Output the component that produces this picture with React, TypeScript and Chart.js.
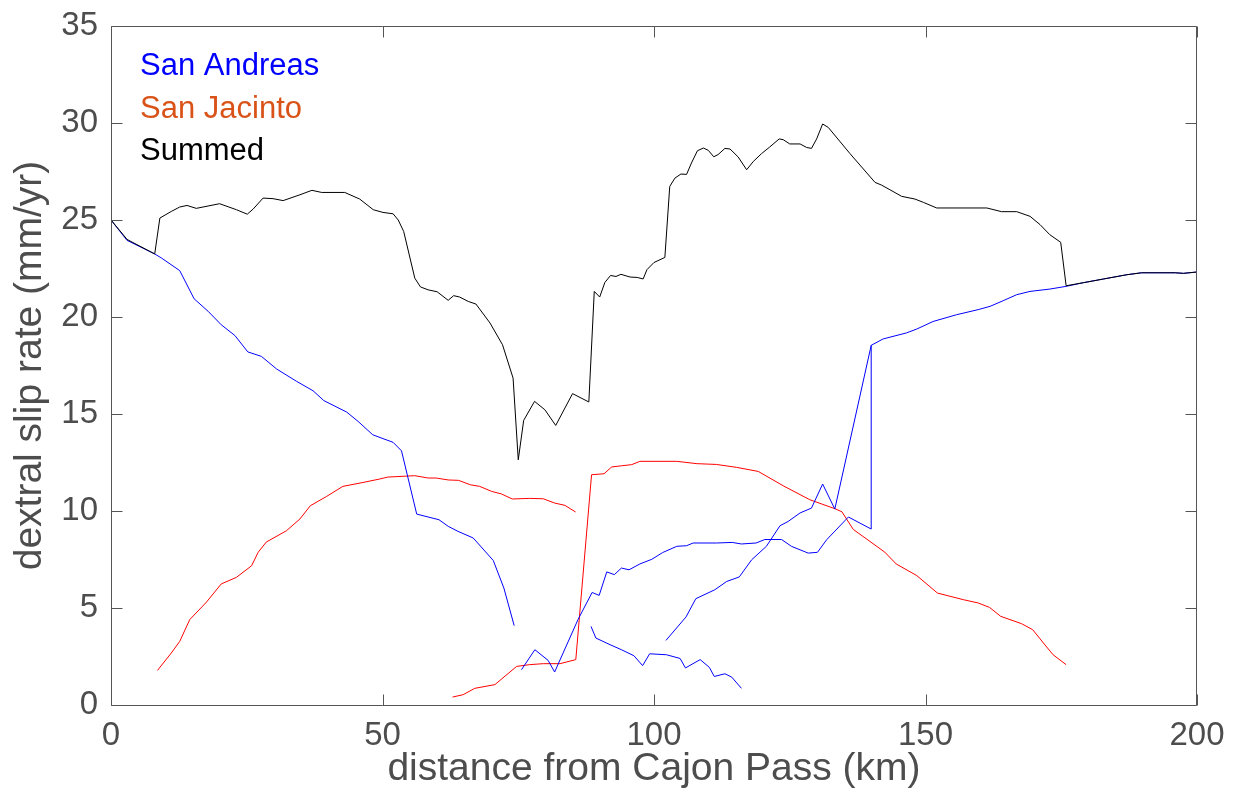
import React, { useEffect, useRef } from 'react';
import { Chart, registerables } from 'chart.js';

Chart.register(...registerables);

const FONT = '"Liberation Sans", Arial, Helvetica, sans-serif';
const AXIS_TEXT = '#4d4d4d';
const FRAME = '#555555';

// axis ticks
const xTicks = [0, 50, 100, 150, 200];
const yTicks = [0, 5, 10, 15, 20, 25, 30, 35];

// legend (text only)
const legendLabels = ['San Andreas', 'San Jacinto', 'Summed'];
const legendColors = ['#0000ff', '#d95319', '#000000'];

// Summed
const summedX = [0, 2.95, 8.05, 9.0, 11.1, 12.66, 14.0, 15.7, 20.0, 23.1, 25.1, 26.2, 28.0, 29.85, 31.7, 34.8, 37.0, 38.8, 43.05, 45.8, 48.3, 50.1, 51.95, 52.9, 53.9, 55.95, 57.0, 58.4, 60.06, 62.1, 63.1, 64.2, 65.8, 67.2, 69.8, 72.1, 74.05, 75.0, 76.0, 78.0, 79.9, 81.9, 85.0, 88.0, 89.0, 90.0, 90.95, 92.0, 93.0, 93.9, 95.6, 96.9, 98.0, 98.7, 100.0, 102.0, 102.9, 103.85, 104.96, 106.0, 106.9, 108.0, 109.1, 110.0, 111.0, 111.8, 113.06, 114.0, 115.5, 117.06, 118.3, 119.8, 121.3, 123.06, 123.8, 125.0, 126.9, 128.1, 129.0, 129.95, 131.06, 132.1, 136.1, 140.7, 141.9, 143.45, 145.6, 148.06, 149.6, 152.06, 161.3, 164.0, 166.8, 169.25, 171.1, 172.9, 174.9, 175.9, 179.1, 182.8, 187.1, 189.8, 196.0, 197.5, 200];
const summedY = [25.0, 24.0, 23.25, 25.1, 25.44, 25.67, 25.75, 25.6, 25.84, 25.53, 25.3, 25.57, 26.13, 26.1, 26.0, 26.3, 26.53, 26.42, 26.42, 26.08, 25.53, 25.39, 25.32, 25.0, 24.41, 22.0, 21.55, 21.4, 21.3, 20.86, 21.1, 21.03, 20.8, 20.67, 19.69, 18.57, 16.85, 12.64, 14.67, 15.65, 15.22, 14.41, 16.05, 15.62, 21.32, 21.03, 21.78, 22.14, 22.09, 22.2, 22.06, 22.04, 21.96, 22.44, 22.81, 23.07, 26.73, 27.16, 27.37, 27.35, 27.94, 28.57, 28.71, 28.59, 28.26, 28.37, 28.69, 28.66, 28.25, 27.59, 28.02, 28.42, 28.76, 29.18, 29.14, 28.92, 28.92, 28.74, 28.69, 29.18, 29.95, 29.77, 28.42, 26.94, 26.8, 26.56, 26.22, 26.08, 25.91, 25.62, 25.62, 25.43, 25.43, 25.19, 24.76, 24.24, 23.85, 21.61, 21.77, 21.96, 22.18, 22.28, 22.28, 22.25, 22.32];

// San Andreas strands
const sa1X = [0, 2.95, 8.05, 9.3, 12.66, 15.3, 17.9, 20.3, 22.8, 25.2, 27.7, 30.5, 34.2, 37.2, 39.2, 43.4, 45.5, 48.2, 50.1, 51.95, 53.5, 56.3, 60.4, 62.1, 63.9, 66.7, 70.4, 72.35, 74.25];
const sa1Y = [25.0, 23.95, 23.25, 23.04, 22.39, 20.94, 20.29, 19.6, 19.05, 18.2, 17.97, 17.32, 16.68, 16.2, 15.69, 15.1, 14.62, 13.93, 13.73, 13.54, 13.1, 9.84, 9.55, 9.21, 8.95, 8.61, 7.45, 6.03, 4.09];

const sa2X = [75.6, 78.06, 80.5, 81.7, 86.0, 88.6, 89.9, 91.3, 92.7, 94.0, 95.4, 97.4, 99.6, 101.6, 104.2, 106.0, 107.2, 111.5, 114.4, 116.1, 118.8, 120.4, 123.5, 125.3, 128.4, 130.1, 131.8, 135.8, 140.0, 140.0];
const sa2Y = [1.82, 2.85, 2.3, 1.7, 4.4, 5.8, 5.65, 6.86, 6.72, 7.06, 6.97, 7.27, 7.51, 7.86, 8.18, 8.21, 8.35, 8.35, 8.38, 8.3, 8.35, 8.53, 8.53, 8.18, 7.83, 7.87, 8.52, 9.69, 9.07, 18.54];

const sa3X = [88.4, 89.3, 91.9, 94.0, 96.3, 97.9, 99.2, 102.3, 104.8, 105.8, 108.5, 110.2, 111.1, 113.06, 114.3, 116.1];
const sa3Y = [4.05, 3.45, 3.11, 2.85, 2.54, 2.03, 2.64, 2.59, 2.4, 1.91, 2.34, 1.94, 1.47, 1.61, 1.44, 0.86];

const sa4X = [102.2, 105.9, 107.7, 111.2, 113.4, 115.7, 118.0, 120.7, 123.2, 124.7, 126.9, 129.0, 131.06, 133.3, 140.0, 142.2, 146.5, 148.4, 151.4, 155.75, 159.7, 161.9, 164.3, 166.8, 169.25, 172.9, 175.9, 179.1, 182.8, 187.1, 189.8, 196.0, 197.5, 200];
const sa4Y = [3.33, 4.54, 5.48, 5.94, 6.37, 6.6, 7.49, 8.18, 9.24, 9.46, 9.9, 10.15, 11.39, 10.1, 18.54, 18.87, 19.18, 19.38, 19.77, 20.12, 20.38, 20.55, 20.84, 21.15, 21.32, 21.44, 21.58, 21.77, 21.96, 22.18, 22.28, 22.28, 22.25, 22.32];

// San Jacinto strands
const sj1X = [8.55, 11.1, 12.66, 14.5, 17.6, 20.3, 23.1, 25.9, 27.1, 28.6, 32.3, 34.8, 36.7, 39.7, 42.7, 46.4, 49.5, 51.0, 55.95, 58.4, 59.9, 62.1, 64.0, 66.2, 67.9, 70.1, 71.9, 73.9, 77.1, 79.6, 81.7, 83.6, 85.55];
const sj1Y = [1.78, 2.68, 3.28, 4.4, 5.31, 6.24, 6.58, 7.18, 7.87, 8.4, 8.98, 9.59, 10.27, 10.75, 11.27, 11.47, 11.65, 11.75, 11.82, 11.7, 11.7, 11.6, 11.58, 11.35, 11.27, 11.01, 10.88, 10.62, 10.65, 10.63, 10.41, 10.29, 9.95];

const sj2X = [62.9, 64.85, 67.0, 70.7, 74.7, 77.1, 79.6, 82.7, 85.6, 88.5, 90.8, 92.2, 94.0, 95.9, 97.4, 104.2, 107.9, 111.5, 115.2, 119.2, 123.8, 128.7, 133.3, 134.6, 136.7, 142.5, 144.6, 148.4, 152.2, 156.96, 159.7, 161.8, 163.85, 167.7, 169.75, 171.7, 173.5, 175.9];
const sj2Y = [0.41, 0.53, 0.86, 1.05, 1.99, 2.08, 2.13, 2.13, 2.34, 11.87, 11.92, 12.27, 12.33, 12.39, 12.56, 12.56, 12.44, 12.4, 12.25, 12.04, 11.3, 10.58, 10.12, 9.96, 9.05, 7.88, 7.27, 6.67, 5.77, 5.43, 5.26, 5.03, 4.57, 4.19, 3.88, 3.2, 2.59, 2.08];

const zip = (xs: number[], ys: number[]) => xs.map((x, i) => ({ x, y: ys[i] }));

const framePlugin = {
  id: 'matlabFrame',
  afterDatasetsDraw(chart: any) {
    const { ctx, chartArea: a, scales } = chart;
    const L = Math.round(a.left) + 0.5;
    const R = Math.round(a.right) - 0.5;
    const T = Math.round(a.top) + 0.5;
    const B = Math.round(a.bottom) + 0.5;
    const tl = 11;
    ctx.save();
    ctx.strokeStyle = FRAME;
    ctx.lineWidth = 1;
    ctx.beginPath();
    ctx.rect(L, T, R - L, B - T);
    ctx.stroke();
    ctx.beginPath();
    xTicks.forEach((v) => {
      const px = Math.round(scales.x.getPixelForValue(v)) + 0.5;
      ctx.moveTo(px, B);
      ctx.lineTo(px, B - tl);
      ctx.moveTo(px, T);
      ctx.lineTo(px, T + tl);
    });
    yTicks.forEach((v) => {
      const py = Math.round(scales.y.getPixelForValue(v)) + 0.5;
      ctx.moveTo(L, py);
      ctx.lineTo(L + tl, py);
      ctx.moveTo(R, py);
      ctx.lineTo(R - tl, py);
    });
    ctx.stroke();

    // text legend in the upper-left corner
    ctx.font = `31px ${FONT}`;
    ctx.textBaseline = 'alphabetic';
    ctx.textAlign = 'left';
    legendLabels.forEach((label, i) => {
      ctx.fillStyle = legendColors[i];
      ctx.fillText(label, a.left + 29, a.top + 49 + i * 42.5);
    });
    ctx.restore();
  },
};

export default function App() {
  const canvasRef = useRef<HTMLCanvasElement | null>(null);

  useEffect(() => {
    const canvas = canvasRef.current;
    if (!canvas) return;
    const line = (label: string, xs: number[], ys: number[], color: string) => ({
      label,
      data: zip(xs, ys),
      borderColor: color,
      backgroundColor: color,
      borderWidth: 1,
      pointRadius: 0,
      tension: 0,
      fill: false,
    });
    const chart = new Chart(canvas, {
      type: 'line',
      data: {
        datasets: [
          line('Summed', summedX, summedY, '#000000'),
          line('San Andreas', sa1X, sa1Y, '#0000ff'),
          line('San Andreas', sa2X, sa2Y, '#0000ff'),
          line('San Andreas', sa3X, sa3Y, '#0000ff'),
          line('San Andreas', sa4X, sa4Y, '#0000ff'),
          line('San Jacinto', sj1X, sj1Y, '#ff0000'),
          line('San Jacinto', sj2X, sj2Y, '#ff0000'),
        ],
      },
      options: {
        responsive: false,
        devicePixelRatio: 1,
        animation: false,
        events: [],
        layout: { padding: { left: 0, top: 26, right: 42, bottom: 0 } },
        plugins: {
          legend: { display: false },
          tooltip: { enabled: false },
        },
        scales: {
          x: {
            type: 'linear',
            min: 0,
            max: 200,
            afterBuildTicks: (s: any) => {
              s.ticks = xTicks.map((value) => ({ value }));
            },
            afterFit: (s: any) => {
              s.height = 88;
              s.paddingLeft = 0;
              s.paddingRight = 0;
            },
            ticks: {
              autoSkip: false,
              maxRotation: 0,
              padding: 11,
              color: AXIS_TEXT,
              font: { family: FONT, size: 33 },
            },
            grid: { display: false, drawTicks: false },
            border: { display: false },
            title: {
              display: true,
              text: 'distance from Cajon Pass (km)',
              color: AXIS_TEXT,
              font: { family: FONT, size: 39 },
              padding: { top: 0, bottom: 0 },
            },
          },
          y: {
            type: 'linear',
            min: 0,
            max: 35,
            afterBuildTicks: (s: any) => {
              s.ticks = yTicks.map((value) => ({ value }));
            },
            afterFit: (s: any) => {
              s.width = 111;
              s.paddingTop = 0;
              s.paddingBottom = 0;
            },
            ticks: {
              autoSkip: false,
              padding: 13,
              color: AXIS_TEXT,
              font: { family: FONT, size: 33 },
            },
            grid: { display: false, drawTicks: false },
            border: { display: false },
            title: {
              display: true,
              text: 'dextral slip rate (mm/yr)',
              color: AXIS_TEXT,
              font: { family: FONT, size: 39 },
              padding: { top: 7, bottom: 0 },
            },
          },
        },
      },
      plugins: [framePlugin],
    } as any);
    return () => chart.destroy();
  }, []);

  return (
    <div style={{ position: 'absolute', left: 0, top: 0, width: 1239, height: 793, background: '#ffffff' }}>
      <canvas ref={canvasRef} width={1239} height={793} style={{ display: 'block', width: 1239, height: 793 }} />
    </div>
  );
}
